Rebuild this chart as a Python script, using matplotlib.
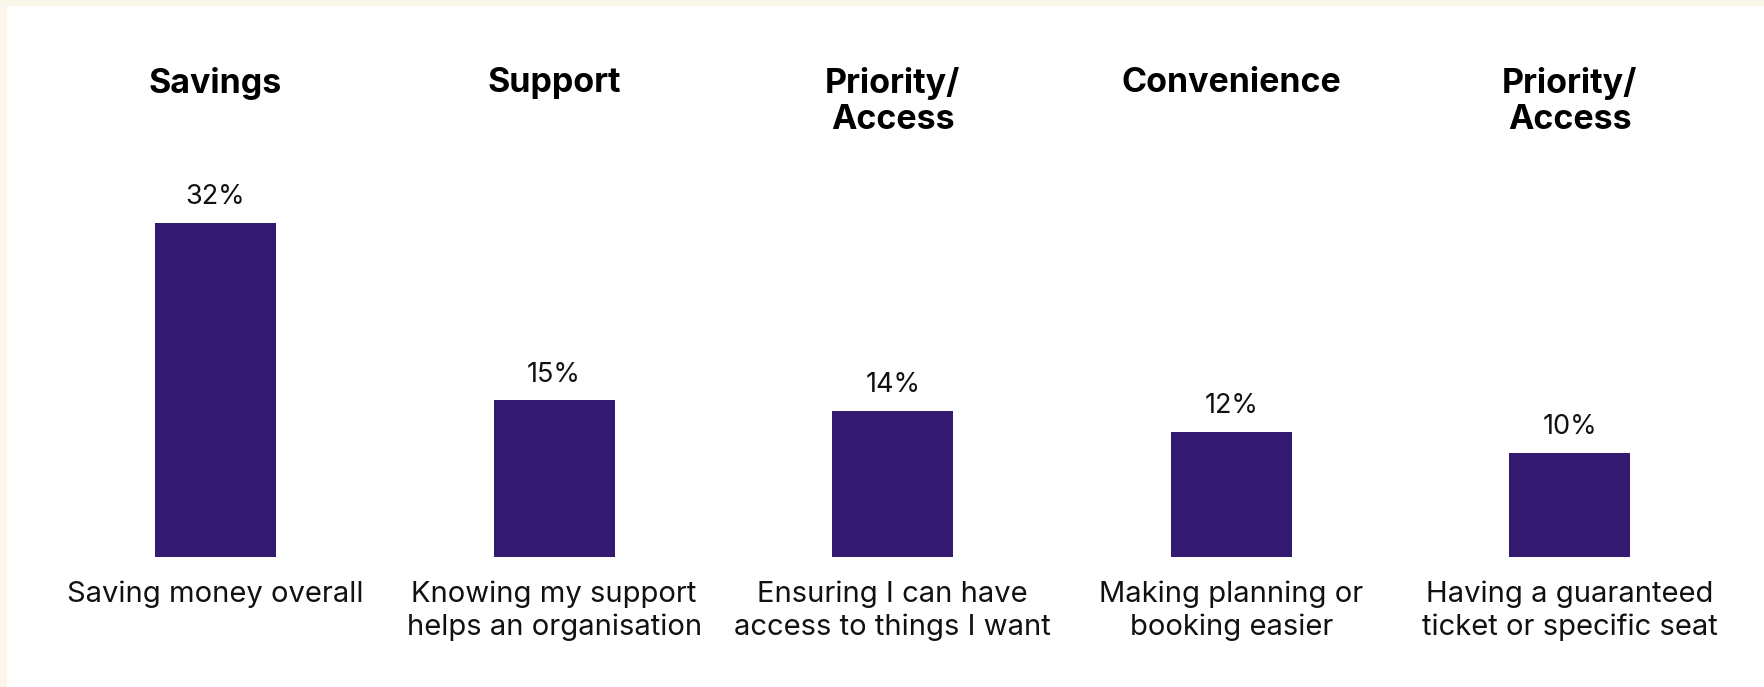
import matplotlib.pyplot as plt
from matplotlib.patches import Rectangle

plt.rcParams["font.family"] = ["Inter", "DejaVu Sans"]

headers = ["Savings", "Support", "Priority/\nAccess", "Convenience", "Priority/\nAccess"]
labels = [
    "Saving money overall",
    "Knowing my support\nhelps an organisation",
    "Ensuring I can have\naccess to things I want",
    "Making planning or\nbooking easier",
    "Having a guaranteed\nticket or specific seat",
]
values = [32, 15, 14, 12, 10]

BAR_COLOR = "#331a70"
CREAM = "#faf7ea"
W, H = 1764, 687

fig = plt.figure(figsize=(W / 100, H / 100), dpi=100, facecolor=CREAM)

ax = fig.add_axes([0, 0, 1, 1])
ax.set_facecolor("none")
ax.set_axis_off()

# white panel, cream strip only along the top and left edges
ax.add_patch(Rectangle((7 / W, 0), 1, 1 - 6 / H, transform=fig.transFigure,
                       facecolor="white", edgecolor="none", zorder=0,
                       clip_on=False))

# pixel layout: first bar centre at 215.5 px, spacing 338.6 px, baseline at 557 px
step = 338.6
ax.set_xlim(-215.5 / step, (W - 215.5) / step)
ppv = 10.44
ax.set_ylim(-(H - 557) / ppv, 557 / ppv)

x = range(len(values))
bars = ax.bar(x, values, width=121 / step, color=BAR_COLOR, edgecolor="none",
              zorder=2)

for rect, v in zip(bars, values):
    ax.annotate(f"{v}%", (rect.get_x() + rect.get_width() / 2, v),
                xytext=(0, 18.5), textcoords="offset points",
                ha="center", va="center", fontsize=19.5, color="#111111",
                zorder=3)

trans = ax.get_xaxis_transform()
for i, (h, lab) in enumerate(zip(headers, labels)):
    ax.text(i, 1 - 67 / H, h, transform=trans, ha="center", va="top",
            fontsize=24.5, fontweight="bold", color="black", linespacing=1.16,
            zorder=3)
    ax.text(i, 1 - 581 / H, lab, transform=trans, ha="center", va="top",
            fontsize=21, color="#111111", linespacing=1.22, zorder=3)

fig.savefig("out.png", dpi=100, facecolor=CREAM)
